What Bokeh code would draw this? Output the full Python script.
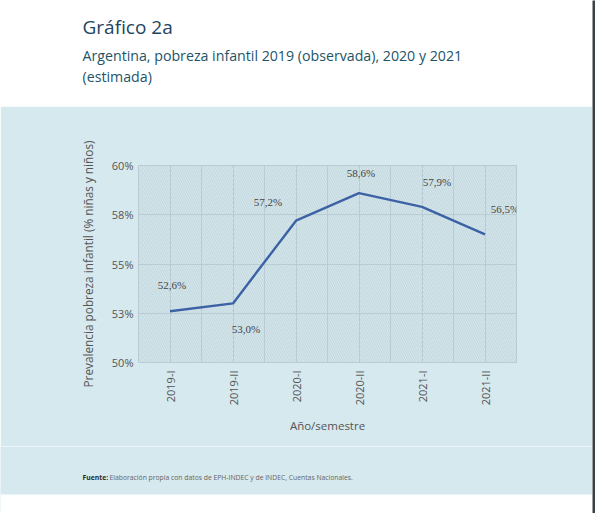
from math import pi
from bokeh.plotting import figure
from bokeh.models import (FactorRange, Range1d, FixedTicker, BoxAnnotation, Span,
                          Label, LabelSet, ColumnDataSource)
from bokeh.layouts import column, row
from bokeh.embed import file_html
from bokeh.resources import INLINE

# ---------------- data ----------------
periods = ["2019-I", "2019-II", "2020-I", "2020-II", "2021-I", "2021-II"]
poverty = [52.6, 53.0, 57.2, 58.6, 57.9, 56.5]
y_ticks = [50, 52.5, 55, 57.5, 60]
y_tick_labels = ["50%", "53%", "55%", "58%", "60%"]

title_text = "Gráfico 2a"
subtitle_lines = ["Argentina, pobreza infantil 2019 (observada), 2020 y 2021", "(estimada)"]
y_label = "Prevalencia pobreza infantil (% niñas y niños)"
x_label = "Año/semestre"
source_bold = "Fuente:"
source_text = "Elaboración propia con datos de EPH-INDEC y de INDEC, Cuentas Nacionales."

# ---------------- style / layout ----------------
FONT = "Open Sans"
W = 592
panel = "#d6e9ee"
grid_c = "#b9ccd3"
line_c = "#3c62a5"
axis_txt = "#555555"
title_c = "#1d4560"
sub_c = "#225469"
edge_c = "#3b4045"

label_dx = [2, 13, -28, 2, 15, 20]      # px, horizontal offset of value labels
label_dy = [26, -26, 19, 20, 25, 25]    # px, vertical offset (up) of value labels


def blank_fig(w, h, bg):
    f = figure(width=w, height=h, x_range=Range1d(0, w), y_range=Range1d(h, 0),
               output_backend="svg", toolbar_location=None,
               x_axis_location=None, y_axis_location=None,
               min_border=0, min_border_left=0, min_border_right=0,
               min_border_top=0, min_border_bottom=0,
               background_fill_color=bg, border_fill_color=bg, outline_line_color=None)
    f.grid.visible = False
    return f


# ---------------- header ----------------
HH = 106
header = blank_fig(W, HH, "white")
header.add_layout(Label(x=82, y=26, text=title_text, text_font=FONT, text_font_size="19px",
                        text_color=title_c, text_baseline="alphabetic", text_align="left"))
for i, line in enumerate(subtitle_lines):
    header.add_layout(Label(x=82, y=55 + 21 * i, text=line, text_font=FONT,
                            text_font_size="14.2px", text_color=sub_c,
                            text_baseline="alphabetic", text_align="left"))

# ---------------- chart ----------------
CH = 340
p = figure(x_range=FactorRange(factors=periods), y_range=Range1d(50, 60),
           width=W, height=CH, output_backend="svg", toolbar_location=None,
           min_border_left=138, min_border_right=W - 516, min_border_top=59, min_border_bottom=84,
           background_fill_color=panel, border_fill_color=panel,
           outline_line_color=grid_c, outline_line_width=1)

hatch = BoxAnnotation(fill_alpha=0, line_alpha=0, hatch_pattern="\\", hatch_color="#b2c7ce",
                      hatch_alpha=0.8, hatch_scale=4.5, hatch_weight=0.8, level="image")
p.add_layout(hatch)

p.xgrid.grid_line_color = grid_c
p.ygrid.grid_line_color = grid_c
for k in range(1, len(periods)):
    p.add_layout(Span(location=k, dimension="height", line_color=grid_c, line_width=1,
                      level="underlay"))

p.yaxis.ticker = FixedTicker(ticks=y_ticks)
p.yaxis.major_label_overrides = dict(zip(y_ticks, y_tick_labels))

for ax in (p.xaxis[0], p.yaxis[0]):
    ax.axis_line_color = None
    ax.major_tick_line_color = None
    ax.minor_tick_line_color = None
    ax.major_tick_out = 0
    ax.major_tick_in = 0
    ax.major_label_text_font = FONT
    ax.major_label_text_font_size = "11px"
    ax.major_label_text_color = axis_txt
    ax.axis_label_text_font = FONT
    ax.axis_label_text_font_size = "11.5px"
    ax.axis_label_text_font_style = "normal"
    ax.axis_label_text_color = axis_txt

p.yaxis.axis_label_text_font_size = "11.8px"
p.yaxis.major_label_standoff = 5
p.yaxis.axis_label = y_label
p.yaxis.axis_label_standoff = 13
p.xaxis.axis_label = x_label
p.xaxis.major_label_orientation = pi / 2
p.xaxis.major_label_standoff = 8
p.xaxis.axis_label_standoff = 10

p.line(x=periods, y=poverty, line_color=line_c, line_width=2.4, line_join="round")

lab_src = ColumnDataSource(dict(
    x=periods, y=poverty,
    text=[f"{v:.1f}".replace(".", ",") + "%" for v in poverty],
    dx=label_dx, dy=label_dy))
p.add_layout(LabelSet(x="x", y="y", text="text", x_offset="dx", y_offset="dy",
                      source=lab_src, text_font=FONT, text_font_size="11px",
                      text_color="#444444", text_align="center", text_baseline="middle"))

# ---------------- footer ----------------
FH = 67
footer = blank_fig(W, FH, panel)
footer.add_layout(BoxAnnotation(left=0, right=W, top=48, bottom=FH, fill_color="white",
                                fill_alpha=1, line_alpha=0, level="underlay"))
footer.add_layout(Label(x=82, y=31, text=source_bold, text_font=FONT, text_font_size="6.8px",
                        text_font_style="bold", text_color="#2b2b2b",
                        text_baseline="middle", text_align="left"))
footer.add_layout(Label(x=109, y=31, text=source_text, text_font=FONT, text_font_size="6.8px",
                        text_color="#666666", text_baseline="middle", text_align="left"))

edge = blank_fig(3, HH + CH + FH, edge_c)

layout = row(column(row(header), p, row(footer), spacing=0), edge, spacing=0)
open("out.html", "w").write(file_html(layout, INLINE))
